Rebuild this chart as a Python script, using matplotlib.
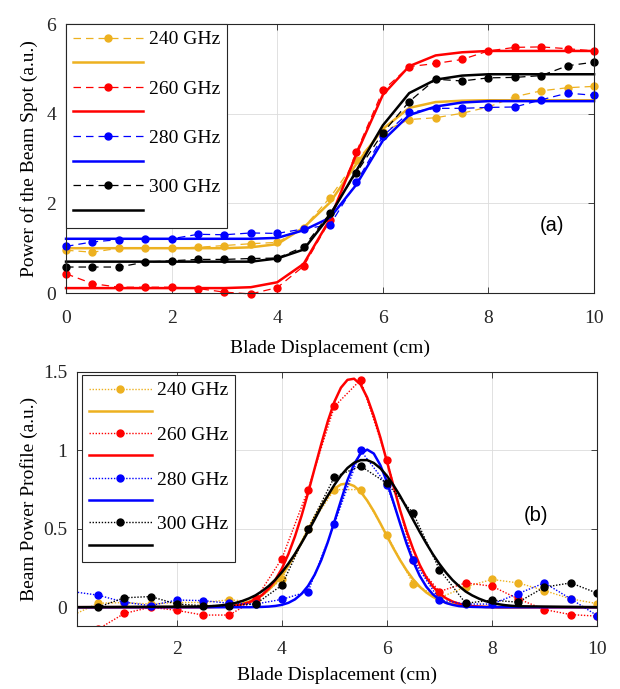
import numpy as np
import matplotlib as mpl
import matplotlib.pyplot as plt

mpl.rcParams.update({
    "font.family": "serif",
    "font.serif": ["Liberation Serif", "DejaVu Serif"],
    "font.size": 14,
    "axes.linewidth": 0.8,
    "axes.edgecolor": "#262626",
    "xtick.color": "#262626",
    "ytick.color": "#262626",
})

YEL = "#EDB120"
RED = "#FF0000"
BLUE = "#0000FF"
BLACK = "#000000"

labels = ["240 GHz", "260 GHz", "280 GHz", "300 GHz"]
colors = [YEL, RED, BLUE, BLACK]

# ---- (a) power of the beam spot vs blade displacement ----
x_top = np.arange(0, 10.01, 0.5)

spot_240 = [0.955, 0.91, 1.0, 1.0, 1.0, 1.02, 1.06, 1.1, 1.13, 1.46, 2.13,
            2.96, 3.6, 3.87, 3.91, 4.01, 4.15, 4.38, 4.51, 4.58, 4.61]
spot_260 = [0.43, 0.21, 0.13, 0.13, 0.13, 0.1, 0.02, -0.02, 0.12, 0.6, 1.62,
            3.15, 4.52, 5.05, 5.12, 5.21, 5.4, 5.48, 5.49, 5.45, 5.4]
spot_280 = [1.04, 1.14, 1.19, 1.21, 1.21, 1.31, 1.3, 1.34, 1.33, 1.43, 1.52,
            2.47, 3.5, 4.03, 4.12, 4.12, 4.14, 4.15, 4.31, 4.46, 4.41]
spot_300 = [0.58, 0.58, 0.58, 0.69, 0.72, 0.75, 0.75, 0.77, 0.78, 1.03, 1.78,
            2.68, 3.57, 4.27, 4.77, 4.73, 4.8, 4.81, 4.85, 5.07, 5.15]

fit_240 = [1.0, 1.0, 1.0, 1.0, 1.0, 1.0, 1.0, 1.02, 1.09, 1.46, 2.02,
           2.88, 3.66, 4.13, 4.26, 4.29, 4.3, 4.3, 4.3, 4.3, 4.3]
fit_260 = [0.11, 0.11, 0.11, 0.11, 0.11, 0.11, 0.11, 0.13, 0.24, 0.65, 1.65,
           3.1, 4.42, 5.06, 5.3, 5.37, 5.4, 5.4, 5.4, 5.4, 5.4]
fit_280 = [1.21, 1.21, 1.21, 1.21, 1.21, 1.21, 1.21, 1.21, 1.23, 1.4, 1.68,
           2.42, 3.4, 3.97, 4.16, 4.25, 4.28, 4.28, 4.28, 4.28, 4.28]
fit_300 = [0.7, 0.7, 0.7, 0.7, 0.7, 0.7, 0.7, 0.7, 0.77, 0.97, 1.73,
           2.73, 3.74, 4.46, 4.76, 4.85, 4.88, 4.88, 4.88, 4.88, 4.88]

# ---- (b) beam power profile ----
x_bot = np.arange(0, 10.01, 0.5)

prof_240 = [-0.054, 0.025, 0.03, 0.02, 0.03, 0.03, 0.047, 0.035, 0.18, 0.5, 0.75,
            0.75, 0.46, 0.15, 0.06, 0.13, 0.177, 0.155, 0.106, 0.053, 0.023]
prof_260 = [-0.4, -0.14, -0.04, 0.0, -0.02, -0.05, -0.05, 0.05, 0.31, 0.75, 1.28,
            1.45, 0.94, 0.3, 0.1, 0.155, 0.134, 0.053, -0.015, -0.047, -0.057]
prof_280 = [0.1, 0.077, 0.032, 0.01, 0.046, 0.042, 0.025, 0.02, 0.05, 0.1, 0.53,
            1.0, 0.78, 0.3, 0.047, 0.02, 0.02, 0.087, 0.155, 0.053, -0.053]
prof_300 = [0.0, 0.0, 0.06, 0.068, 0.02, 0.01, 0.01, 0.02, 0.14, 0.5, 0.83,
            0.9, 0.79, 0.6, 0.24, 0.025, 0.045, 0.032, 0.128, 0.155, 0.09]

# gaussian fits
x_fit = np.concatenate([[0.0], np.arange(2.5, 8.5001, 0.125), [10.0]])

gfit_240 = [0,
            0.001, 0.002, 0.003, 0.005,
            0.009, 0.015, 0.023, 0.036, 0.054, 0.078, 0.111, 0.153,
            0.204, 0.266, 0.336, 0.413, 0.493, 0.573, 0.646, 0.709,
            0.756, 0.783, 0.789, 0.773, 0.736, 0.680, 0.612, 0.535,
            0.454, 0.375, 0.301, 0.235, 0.178, 0.131, 0.094, 0.066,
            0.044, 0.029, 0.019, 0.012, 0.007, 0.004, 0.003, 0.002,
            0.001, 0, 0, 0, 0,
            0]
gfit_260 = [0,
            0.000, 0.001, 0.002, 0.003,
            0.006, 0.011, 0.019, 0.031, 0.050, 0.078, 0.119, 0.174,
            0.246, 0.339, 0.452, 0.583, 0.730, 0.886, 1.040, 1.186,
            1.310, 1.400, 1.450, 1.457, 1.420, 1.337, 1.220, 1.083,
            0.930, 0.773, 0.620, 0.487, 0.370, 0.270, 0.190, 0.132,
            0.088, 0.057, 0.036, 0.022, 0.013, 0.007, 0.004, 0.002,
            0.001, 0, 0, 0, 0,
            0]
gfit_280 = [0,
            0, 0, 0, 0,
            0, 0, 0, 0.000, 0.001, 0.002, 0.004, 0.008,
            0.015, 0.028, 0.050, 0.085, 0.136, 0.207, 0.300, 0.415,
            0.545, 0.680, 0.810, 0.913, 0.980, 1.005, 0.980, 0.906,
            0.800, 0.669, 0.535, 0.405, 0.292, 0.200, 0.131, 0.082,
            0.048, 0.027, 0.015, 0.007, 0.004, 0.002, 0.001, 0,
            0, 0, 0, 0, 0,
            0]
gfit_300 = [0,
            0.004, 0.006, 0.009, 0.013,
            0.019, 0.028, 0.040, 0.056, 0.076, 0.103, 0.135, 0.175,
            0.223, 0.278, 0.340, 0.410, 0.483, 0.560, 0.640, 0.712,
            0.780, 0.840, 0.888, 0.921, 0.938, 0.938, 0.920, 0.886,
            0.838, 0.778, 0.710, 0.635, 0.557, 0.480, 0.407, 0.338,
            0.276, 0.221, 0.173, 0.134, 0.100, 0.075, 0.055, 0.039,
            0.028, 0.019, 0.013, 0.009, 0.006,
            0]

fig = plt.figure(figsize=(6.2, 6.89), dpi=100)
ax1 = fig.add_axes([0.1065, 0.5747, 0.8516, 0.3904])
ax2 = fig.add_axes([0.1242, 0.0914, 0.8387, 0.3687])


def style_axes(ax, xpad):
    ax.grid(True, color="#dcdcdc", linewidth=0.6)
    ax.set_axisbelow(True)
    ax.tick_params(direction="in", length=4, width=0.6, top=True, right=True)
    ax.tick_params(axis="x", pad=xpad)
    ax.tick_params(axis="y", pad=7)


# top panel
handles = []
for data, fit, c in zip([spot_240, spot_260, spot_280, spot_300],
                        [fit_240, fit_260, fit_280, fit_300], colors):
    h1, = ax1.plot(x_top, data, color=c, linestyle=(0, (6, 4)), linewidth=0.9,
                   marker="o", markersize=5, clip_on=False)
    h2, = ax1.plot(x_top, fit, color=c, linewidth=1.8, clip_on=False)
    handles += [h1, h2]

ax1.set_xlim(0, 10)
ax1.set_ylim(0, 6)
ax1.set_xticks([0, 2, 4, 6, 8, 10])
ax1.set_yticks([0, 2, 4, 6])
style_axes(ax1, 12)
ax1.set_xlabel("Blade Displacement (cm)")
ax1.set_ylabel("Power of the Beam Spot (a.u.)")
ax1.xaxis.set_label_coords(0.5, -0.172)
ax1.yaxis.set_label_coords(-0.054, 0.5)
ax1.text(9.2, 1.5, "(a)", family="Liberation Sans", fontsize=14.5,
         ha="center", va="center")

leg_labels = []
for lab in labels:
    leg_labels += [lab, ""]
leg1 = ax1.legend(handles, leg_labels, loc="upper left", bbox_to_anchor=(0, 1),
                  borderaxespad=0, handlelength=3.6, handletextpad=0.3,
                  labelspacing=0.36, borderpad=0.35, fancybox=False,
                  framealpha=1, edgecolor="#262626", fontsize=14)
leg1.get_frame().set_linewidth(0.8)
leg1.set_zorder(10)

# bottom panel
handles = []
for data, fit, c in zip([prof_240, prof_260, prof_280, prof_300],
                        [gfit_240, gfit_260, gfit_280, gfit_300], colors):
    h1, = ax2.plot(x_bot, data, color=c, linestyle=(0, (1, 1.2)), linewidth=1.0,
                   marker="o", markersize=5)
    h2, = ax2.plot(x_fit, fit, color=c, linewidth=1.8)
    handles += [h1, h2]

ax2.set_xlim(0.1, 10)
ax2.set_ylim(-0.12, 1.5)
ax2.set_xticks([2, 4, 6, 8, 10])
ax2.set_yticks([0, 0.5, 1, 1.5])
ax2.set_yticklabels(["0", "0.5", "1", "1.5"])
style_axes(ax2, 11)
ax2.set_xlabel("Blade Displacement (cm)")
ax2.set_ylabel("Beam Power Profile (a.u.)")
ax2.xaxis.set_label_coords(0.5, -0.16)
ax2.yaxis.set_label_coords(-0.075, 0.5)
ax2.text(8.83, 0.585, "(b)", family="Liberation Sans", fontsize=14.5,
         ha="center", va="center")

leg2 = ax2.legend(handles, leg_labels, loc="upper left",
                  bbox_to_anchor=(0.0096, 0.988), borderaxespad=0,
                  handlelength=3.25, handletextpad=0.25, labelspacing=0.24,
                  borderpad=0.35, fancybox=False, framealpha=1,
                  edgecolor="#262626", fontsize=14)
leg2.get_frame().set_linewidth(0.8)
leg2.set_zorder(10)

fig.savefig("out.png", dpi=100)
